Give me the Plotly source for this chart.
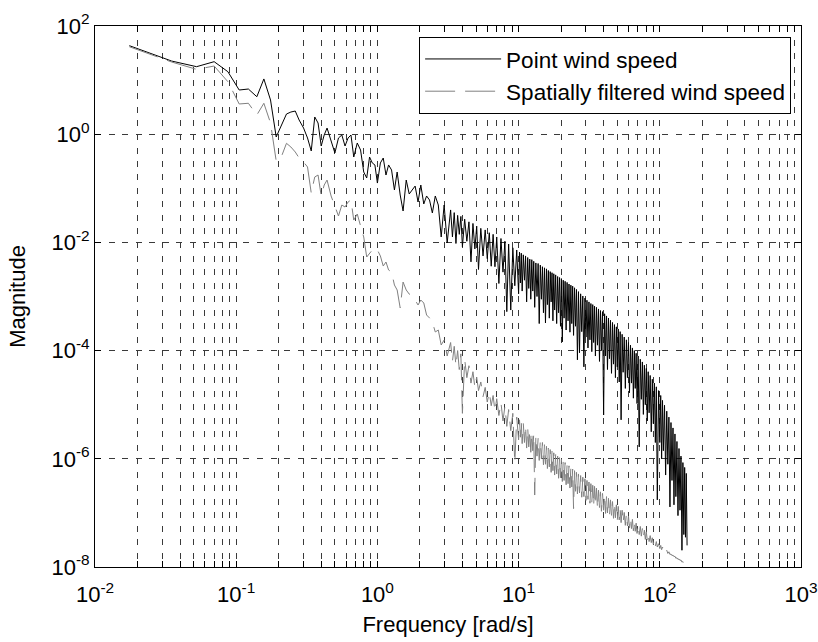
import plotly.graph_objects as go

# ---------------- data ----------------
freq = [
    # low-frequency bins
    0.0175, 0.0349, 0.0524, 0.0698, 0.0873, 0.105, 0.122, 0.140, 0.157, 0.175,
    0.192, 0.209, 0.227, 0.244, 0.262, 0.279,
    # 0.3 .. 3.1
    0.30, 0.32, 0.34, 0.36, 0.38, 0.40, 0.42, 0.44, 0.47, 0.50, 0.53, 0.56,
    0.59, 0.62, 0.65, 0.68, 0.72, 0.76, 0.80, 0.84, 0.88, 0.92, 0.96, 1.0,
    1.05, 1.1, 1.15, 1.2, 1.26, 1.32, 1.38, 1.45, 1.52, 1.6, 1.68, 1.76,
    1.85, 1.94, 2.03, 2.13, 2.23, 2.34, 2.45, 2.57, 2.7, 2.83, 2.97, 3.12,
    # 3.3 .. 9.7
    3.3, 3.4, 3.5, 3.6, 3.7, 3.8, 3.9, 4.0, 4.15, 4.3, 4.45, 4.6, 4.75, 4.9,
    5.05, 5.2, 5.4, 5.6, 5.8, 6.0, 6.2, 6.4, 6.6, 6.8, 7.0, 7.25, 7.5, 7.75,
    8.0, 8.25, 8.5, 8.8, 9.1, 9.4, 9.7,
    # 10 .. 156
    10, 10.15, 10.3, 10.45, 10.6, 10.8, 11, 11.2, 11.4, 11.6, 11.8, 12.0, 12.2,
    12.4, 12.6, 12.8, 13, 13.25, 13.5, 13.75, 14, 14.25, 14.5, 14.75, 15, 15.25,
    15.5, 15.75, 16, 16.25, 16.5, 16.75, 17, 17.25, 17.5, 17.75, 18, 18.3, 18.6,
    18.9, 19.2, 19.5, 19.8, 20.1, 20.4, 20.7, 21, 21.35, 21.7, 22.05, 22.4, 22.75,
    23.1, 23.45, 23.8, 24.15, 24.5, 24.9, 25.3, 25.7, 26.1, 26.55, 27, 27.5, 28,
    28.5, 29, 29.5, 30, 30.5, 31, 31.5, 32, 32.5, 33, 33.5, 34, 34.5, 35, 35.6,
    36.2, 36.8, 37.4, 38.0, 38.6, 39.3, 40, 40.65, 41.3, 41.95, 42.6, 43.3, 44,
    44.75, 45.5, 46.25, 47, 47.75, 48.5, 49.25, 50, 50.8, 51.6, 52.4, 53.2, 54.1,
    55, 56, 57, 58, 59, 60, 61, 62, 63, 64, 65, 66, 67, 68, 69, 70.25, 71.5,
    72.75, 74, 75.25, 76.5, 77.75, 79, 80.25, 81.5, 82.75, 84, 85.5, 87, 88.5,
    90, 91.5, 93, 94.5, 96, 98, 100, 101.5, 103, 104.5, 106, 108, 110, 112, 114,
    116, 118, 120, 122, 124, 126, 128, 130, 132.25, 134.5, 136.75, 139, 141.25,
    143.5, 145.75, 148, 150, 152, 154, 156,
]

point_mag = [
    43.3, 22.5, 17.7, 21.9, 14.3, 6.56, 6.84, 4.93, 10.5, 4.29,
    0.89, 1.48, 2.36, 2.57, 2.68, 1.83,
    1.30, 0.851, 0.49, 2.08, 1.61, 0.605, 0.966, 1.30, 0.781, 0.45, 0.851, 0.966,
    0.605, 0.851, 0.966, 0.379, 0.688, 0.51, 0.20, 0.155, 0.379, 0.294, 0.27, 0.125,
    0.294, 0.363, 0.176, 0.27, 0.218, 0.093, 0.20, 0.0752, 0.0381, 0.142, 0.0785, 0.093,
    0.110, 0.0558, 0.115, 0.0513, 0.0721, 0.0608, 0.035, 0.0721, 0.0491, 0.0126, 0.0491, 0.00975,
    3.98e-2, 1.26e-2, 3.55e-2, 9.55e-3, 3.16e-2, 1.41e-2, 3.02e-2, 8.32e-3, 2.69e-2, 1.05e-2,
    2.40e-2, 4.37e-3, 2.24e-2, 7.59e-3, 2.00e-2, 3.16e-3, 1.82e-2, 5.62e-3, 1.70e-2, 5.01e-3,
    1.51e-2, 3.63e-3, 1.41e-2, 3.55e-3, 1.26e-2, 1.74e-3, 1.18e-2, 2.82e-3, 1.05e-2, 5.25e-4,
    9.33e-3, 5.62e-4, 7.94e-3, 1.58e-3, 7.24e-3,
    1.12e-3, 6.61e-3, 1.78e-3, 6.31e-3, 1.26e-3, 5.89e-3, 2.00e-3, 5.62e-3, 7.94e-4, 5.25e-3,
    1.41e-3, 4.90e-3, 8.91e-4, 4.79e-3, 1.26e-3, 4.47e-3, 6.31e-4, 4.17e-3, 1.00e-3, 4.07e-3,
    3.16e-4, 3.80e-3, 8.91e-4, 3.55e-3, 5.01e-4, 3.39e-3, 3.24e-4, 3.24e-3, 7.08e-4, 3.02e-3,
    3.98e-4, 2.88e-3, 7.94e-4, 2.75e-3, 3.55e-4, 2.63e-3, 5.62e-4, 2.51e-3, 3.16e-4, 2.34e-3,
    5.01e-4, 2.24e-3, 2.82e-4, 2.14e-3, 1.45e-4, 2.00e-3, 3.98e-4, 1.91e-3, 2.40e-4, 1.82e-3,
    3.55e-4, 1.70e-3, 2.19e-4, 1.62e-3, 3.16e-4, 1.55e-3, 1.91e-4, 1.45e-3, 2.82e-4, 1.35e-3,
    6.76e-5, 1.23e-3, 9.12e-5, 1.12e-3, 2.24e-4, 1.02e-3, 5.01e-5, 9.33e-4, 1.78e-4, 8.51e-4,
    1.12e-4, 7.94e-4, 1.58e-4, 7.41e-4, 9.55e-5, 7.08e-4, 1.41e-4, 6.61e-4, 7.94e-5, 6.31e-4,
    1.26e-4, 5.89e-4, 6.31e-5, 5.50e-4, 1.00e-4, 5.25e-4, 6.46e-6, 4.79e-4, 7.94e-5, 4.37e-4,
    4.47e-5, 3.98e-4, 7.08e-5, 3.63e-4, 3.80e-5, 3.31e-4, 5.62e-5, 3.02e-4, 3.16e-5, 2.75e-4,
    5.01e-5, 2.51e-4, 2.63e-5, 2.24e-4, 5.25e-6, 2.00e-4, 3.98e-5, 1.78e-4, 2.00e-5, 1.58e-4,
    3.16e-5, 1.41e-4, 1.66e-5, 1.26e-4, 2.51e-5, 1.12e-4, 1.32e-5, 1.00e-4, 2.00e-5, 8.91e-5,
    1.05e-5, 7.94e-5, 1.66e-6, 6.92e-5, 1.26e-5, 6.17e-5, 6.61e-6, 5.37e-5, 1.00e-5, 4.68e-5,
    5.01e-6, 4.07e-5, 7.08e-6, 3.47e-5, 3.16e-6, 2.95e-5, 4.47e-6, 2.51e-5, 2.00e-6, 2.14e-5,
    1.74e-7, 1.82e-5, 2.00e-6, 1.48e-5, 1.00e-6, 1.20e-5, 1.41e-6, 9.77e-6, 5.01e-7, 7.59e-6,
    7.94e-7, 5.89e-6, 1.29e-7, 4.68e-6, 3.98e-7, 3.72e-6, 1.41e-7, 2.88e-6, 2.00e-7, 2.09e-6,
    8.91e-8, 1.55e-6, 1.12e-7, 1.12e-6, 2.04e-8, 8.51e-7, 3.98e-8, 6.92e-7, 3.55e-8, 5.37e-7,
    2.51e-8,
]

filtered_mag = [
    41.4, 21.6, 15.8, 18.2, 9.35, 3.62, 3.73, 2.26, 3.73, 1.61,
    0.32, 0.384, 0.679, 0.58, 0.469, 0.363,
    0.306, 0.248, 0.0819, 0.162, 0.176, 0.0721, 0.115, 0.142, 0.0721, 0.0471, 0.0308, 0.0491,
    0.0451, 0.0558, 0.0608, 0.0259, 0.0335, 0.0201, 0.0126, 0.00537, 0.00637, 0.00724, 0.00787, 0.00724,
    0.00561, 0.00366, 0.00434, 0.00309, 0.00284, 0.00163, 0.00132, 0.000614, 0.00185, 0.00132, 0.00111, 0.00102,
    0.000861, 0.000697, 0.000861, 0.000758, 0.000455, 0.000401, 0.000338, 0.000221, 0.00024, 0.000127, 0.000157, 7.94e-5,
    1.41e-4, 6.31e-5, 1.20e-4, 5.25e-5, 1.00e-4, 4.47e-5, 8.71e-5, 6.92e-6, 6.92e-5, 3.16e-5,
    5.25e-5, 2.51e-5, 4.07e-5, 2.09e-5, 3.24e-5, 1.82e-5, 2.63e-5, 1.41e-5, 2.09e-5, 1.12e-5,
    1.70e-5, 9.55e-6, 1.48e-5, 7.59e-6, 1.29e-5, 6.31e-6, 1.10e-5, 5.01e-6, 9.33e-6, 3.98e-6,
    8.13e-6, 3.31e-6, 6.92e-6, 8.32e-7, 5.89e-6,
    2.24e-6, 5.25e-6, 2.51e-6, 4.90e-6, 1.91e-6, 4.47e-6, 2.00e-6, 4.07e-6, 1.58e-6, 3.72e-6,
    1.66e-6, 3.39e-6, 1.32e-6, 3.09e-6, 1.41e-6, 2.88e-6, 2.14e-7, 2.63e-6, 1.12e-6, 2.40e-6,
    9.33e-7, 2.19e-6, 1.00e-6, 2.00e-6, 7.76e-7, 1.82e-6, 7.94e-7, 1.70e-6, 6.61e-7, 1.58e-6,
    7.08e-7, 1.48e-6, 5.62e-7, 1.38e-6, 6.03e-7, 1.29e-6, 5.01e-7, 1.20e-6, 5.25e-7, 1.12e-6,
    4.37e-7, 1.05e-6, 4.47e-7, 9.77e-7, 3.80e-7, 9.12e-7, 3.98e-7, 8.51e-7, 3.31e-7, 7.94e-7,
    3.47e-7, 7.41e-7, 2.88e-7, 6.92e-7, 3.02e-7, 6.46e-7, 1.20e-7, 6.03e-7, 2.51e-7, 5.62e-7,
    2.24e-7, 5.25e-7, 2.34e-7, 4.90e-7, 1.95e-7, 4.57e-7, 2.00e-7, 4.27e-7, 1.70e-7, 3.98e-7,
    1.78e-7, 3.72e-7, 1.51e-7, 3.47e-7, 1.58e-7, 3.24e-7, 1.35e-7, 3.09e-7, 1.41e-7, 2.88e-7,
    1.20e-7, 2.63e-7, 1.26e-7, 2.45e-7, 1.07e-7, 2.29e-7, 1.12e-7, 2.14e-7, 9.77e-8, 2.00e-7,
    1.00e-7, 1.86e-7, 8.71e-8, 1.74e-7, 8.91e-8, 1.62e-7, 7.94e-8, 1.51e-7, 8.13e-8, 1.41e-7,
    7.24e-8, 1.32e-7, 7.41e-8, 1.20e-7, 6.61e-8, 1.12e-7, 6.61e-8, 1.02e-7, 5.89e-8, 9.55e-8,
    5.75e-8, 8.71e-8, 5.25e-8, 8.13e-8, 5.13e-8, 7.59e-8, 4.68e-8, 6.92e-8, 4.57e-8, 6.46e-8,
    4.17e-8, 6.03e-8, 3.98e-8, 5.62e-8, 3.72e-8, 5.13e-8, 3.55e-8, 4.79e-8, 3.24e-8, 4.47e-8,
    3.16e-8, 4.07e-8, 2.95e-8, 3.80e-8, 2.82e-8, 3.47e-8, 2.63e-8, 3.24e-8, 2.45e-8, 2.95e-8,
    2.34e-8, 2.69e-8, 2.19e-8, 2.51e-8, 2.09e-8, 2.34e-8, 2.00e-8, 2.19e-8, 1.91e-8, 2.04e-8,
    1.78e-8, 1.91e-8, 1.70e-8, 1.74e-8, 1.62e-8, 1.66e-8, 1.55e-8, 1.58e-8, 1.45e-8, 1.48e-8,
    1.38e-8, 1.41e-8, 1.32e-8, 1.35e-8, 1.23e-8, 1.26e-8, 1.17e-8, 1.20e-8, 1.10e-8, 1.15e-8,
    1.05e-8,
]

assert len(freq) == len(point_mag) == len(filtered_mag), (len(freq), len(point_mag), len(filtered_mag))

series_names = ["Point wind speed", "Spatially filtered wind speed"]

x_decades = [-2, -1, 0, 1, 2, 3]
y_decades = [-8, -6, -4, -2, 0, 2]

# ---------------- figure ----------------
FONT = "Liberation Sans, Arial, Helvetica, sans-serif"
FS = 22
GRID = dict(showgrid=True, gridcolor="#3a3a3a", gridwidth=1, griddash="6px,7.5px")

x_major = [10.0 ** k for k in x_decades]
x_major_text = [f"10<sup>{k}</sup>" for k in x_decades]
x_minor = [m * 10.0 ** k for k in x_decades[:-1] for m in range(2, 10)]

y_major = [10.0 ** k for k in y_decades]
y_major_text = [f"10<sup>{k}</sup>" for k in y_decades]

fig = go.Figure()
fig.add_trace(go.Scatter(
    x=freq, y=point_mag, mode="lines", name=series_names[0],
    line=dict(color="#000000", width=1),
))
fig.add_trace(go.Scatter(
    x=freq, y=filtered_mag, mode="lines", name=series_names[1],
    line=dict(color="#808080", width=1, dash="30px,10px"),
))

axis_common = dict(
    type="log", ticks="inside", ticklen=6, tickwidth=1, tickcolor="#000000",
    showline=True, linecolor="#000000", linewidth=1, mirror="ticks",
    zeroline=False, automargin=False,
    tickfont=dict(family=FONT, size=FS, color="#000000"),
    **GRID,
)

fig.update_layout(
    width=818, height=642,
    margin=dict(l=95, r=17, t=26, b=75),
    paper_bgcolor="white", plot_bgcolor="white",
    font=dict(family=FONT, size=FS, color="#000000"),
    showlegend=True,
    legend=dict(
        x=0.986, xanchor="right", y=0.98, yanchor="top",
        bgcolor="white", bordercolor="#000000", borderwidth=1,
        font=dict(family=FONT, size=22.5, color="#000000"),
        itemwidth=76,
    ),
    xaxis=dict(
        axis_common, range=[-2, 3], tickmode="array",
        tickvals=x_major, ticktext=x_major_text, ticklabelstandoff=8,
        minor=dict(tickmode="array", tickvals=x_minor, ticks="inside", ticklen=6,
                   tickwidth=1, tickcolor="#000000", **GRID),
        title=dict(text="Frequency [rad/s]", font=dict(family=FONT, size=FS), standoff=10),
    ),
    yaxis=dict(
        axis_common, range=[-8, 2], tickmode="array",
        tickvals=y_major, ticktext=y_major_text,
        title=dict(text="Magnitude", font=dict(family=FONT, size=FS), standoff=19),
    ),
)

fig.write_html("out.html")
